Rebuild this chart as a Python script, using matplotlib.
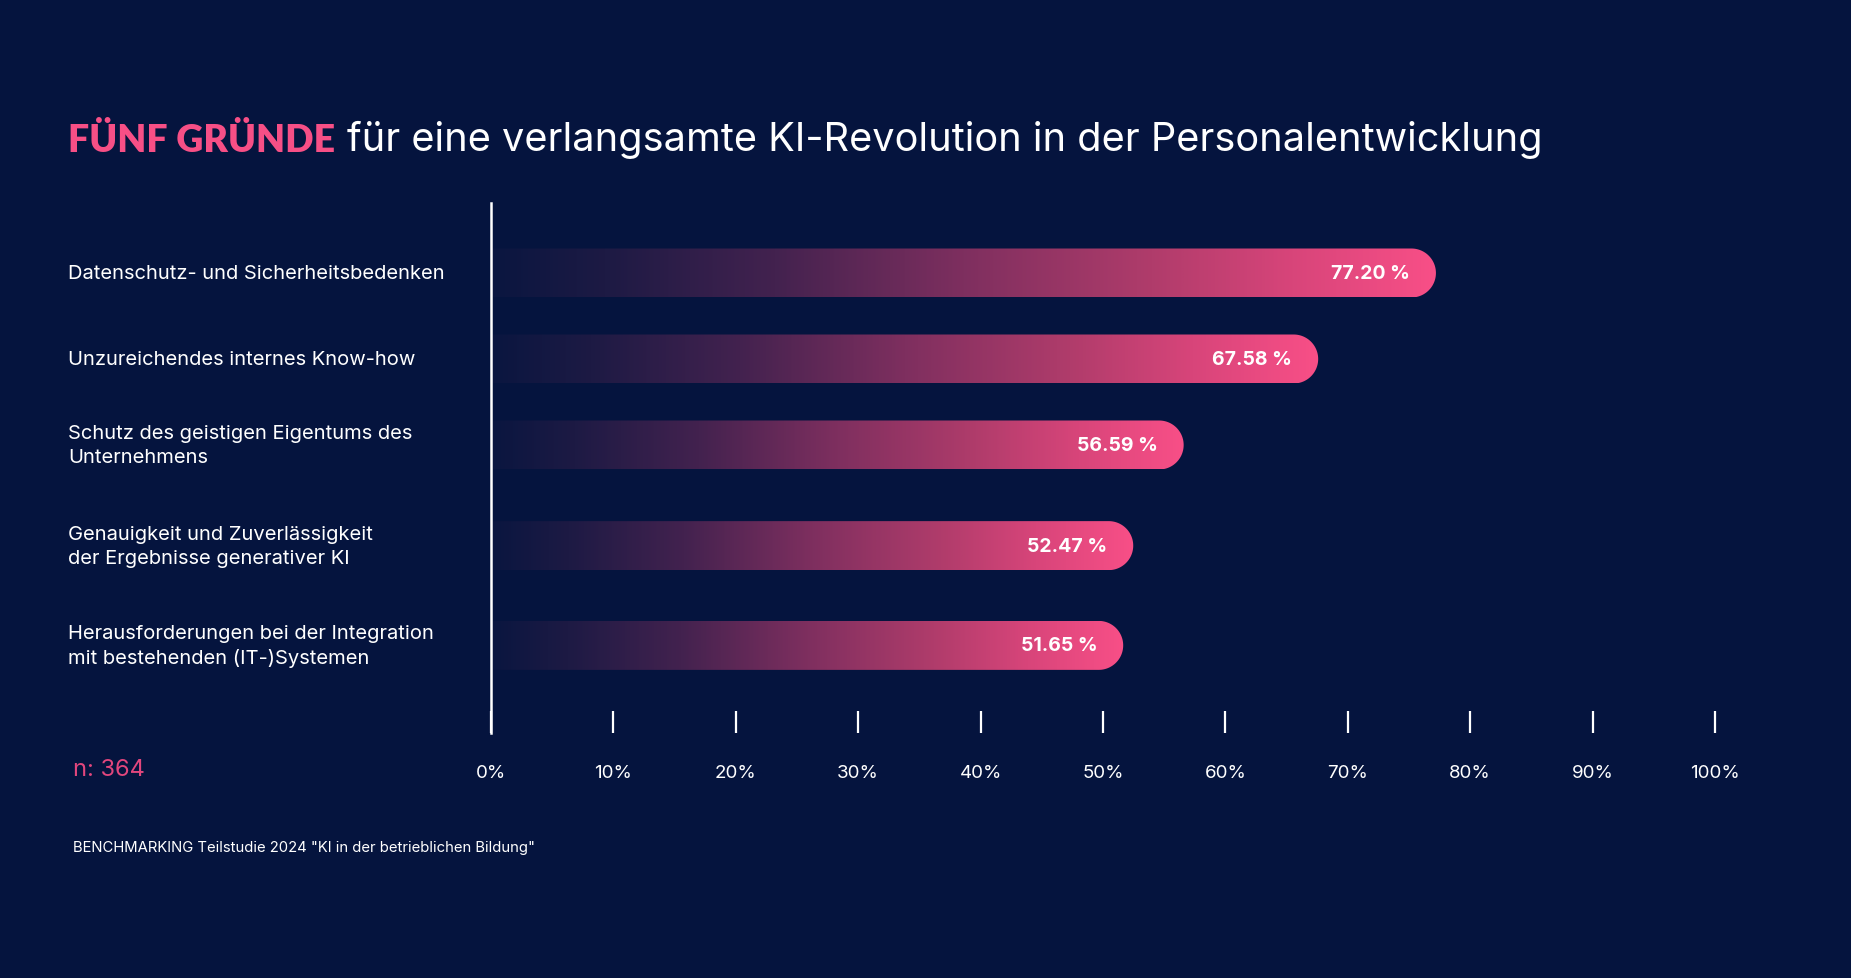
import numpy as np
import matplotlib
matplotlib.use("Agg")
import matplotlib.pyplot as plt
from matplotlib.colors import LinearSegmentedColormap
from matplotlib.path import Path
from matplotlib.patches import PathPatch
from matplotlib.transforms import blended_transform_factory

# ---------------- data ----------------
categories = [
    "Datenschutz- und Sicherheitsbedenken",
    "Unzureichendes internes Know-how",
    "Schutz des geistigen Eigentums des\nUnternehmens",
    "Genauigkeit und Zuverlässigkeit\nder Ergebnisse generativer KI",
    "Herausforderungen bei der Integration\nmit bestehenden (IT-)Systemen",
]
values = [77.20, 67.58, 56.59, 52.47, 51.65]
value_labels = ["77.20 %", "67.58 %", "56.59 %", "52.47 %", "51.65 %"]
tick_values = [0, 10, 20, 30, 40, 50, 60, 70, 80, 90, 100]
tick_labels = ["0%", "10%", "20%", "30%", "40%", "50%", "60%", "70%", "80%", "90%", "100%"]
title_highlight = "FÜNF GRÜNDE"
title_rest = "für eine verlangsamte KI-Revolution in der Personalentwicklung"
sample_note = "n: 364"
source_note = 'BENCHMARKING Teilstudie 2024 "KI in der betrieblichen Bildung"'

# ---------------- layout / style ----------------
BG = "#05143e"
PINK = "#f74f86"
W, H, DPI = 1851, 979, 100
row_pos = [0, 1, 2, 3.17, 4.33]     # vertical slots (two-line labels get more room)
bar_h_px = 49

fig = plt.figure(figsize=(W / DPI, H / DPI), dpi=DPI, facecolor=BG)
ax_left, ax_right = 491, 1715
ax_top, ax_bot = 204, 734
ax = fig.add_axes([ax_left / W, 1 - ax_bot / H, (ax_right - ax_left) / W, (ax_bot - ax_top) / H])
ax.set_facecolor(BG)
ax.patch.set_alpha(0)

row_px = 86.0
ylim_top = -(274 - ax_top) / row_px
ylim_bot = (ax_bot - 274) / row_px
ax.set_xlim(0, 100)
ax.set_ylim(ylim_bot, ylim_top)

cmap = LinearSegmentedColormap.from_list(
    "bar",
    [(0.0, "#0a1640"), (0.12, "#1d1a44"), (0.3, "#43224f"), (0.5, "#7e2f5f"),
     (0.7, "#b03c6b"), (0.85, "#d8457a"), (1.0, "#f84f87")])

# pixel scale of data units
p0 = ax.transData.transform((0, 0))
p1 = ax.transData.transform((1, 1))
px_x = abs(p1[0] - p0[0])
px_y = abs(p1[1] - p0[1])
bh = bar_h_px / px_y
rx = (bar_h_px / 2) / px_x
ry = bh / 2

grad = np.linspace(0, 1, 512).reshape(1, -1)
for y, v in zip(row_pos, values):
    cx = v - rx
    th = np.linspace(-np.pi / 2, np.pi / 2, 60)
    arc = np.column_stack([cx + rx * np.cos(th), y + ry * np.sin(th)])
    verts = np.vstack([[0, y - ry], arc, [0, y + ry], [0, y - ry]])
    codes = [Path.MOVETO] + [Path.LINETO] * (len(verts) - 2) + [Path.CLOSEPOLY]
    patch = PathPatch(Path(verts, codes), facecolor="none", edgecolor="none", transform=ax.transData)
    ax.add_patch(patch)
    im = ax.imshow(grad, extent=[0, v, y + ry, y - ry], aspect="auto", cmap=cmap,
                   interpolation="bilinear", zorder=2)
    im.set_clip_path(patch)

for y, v, lab in zip(row_pos, values, value_labels):
    ax.annotate(lab, xy=(v, y), xytext=(-26, 0), textcoords="offset pixels",
                ha="right", va="center", color="white", fontsize=14,
                fontweight="bold", family="Inter", zorder=5)

ax.set_xlim(0, 100)
ax.set_ylim(ylim_bot, ylim_top)

# axis styling
for s in ["top", "right", "bottom"]:
    ax.spines[s].set_visible(False)
ax.spines["left"].set_color("white")
ax.spines["left"].set_linewidth(1.8)
ax.spines["left"].set_zorder(6)
ax.set_yticks([])
ax.set_xticks(tick_values)
ax.set_xticklabels(tick_labels, family="Inter", fontsize=13.5, color="white")
ax.tick_params(axis="x", direction="in", length=15.5, width=1.6, color="white", pad=22.5)

# category labels
tr = blended_transform_factory(fig.transFigure, ax.transData)
for y, c in zip(row_pos, categories):
    ax.text(68 / W, y, c, transform=tr, ha="left", va="center", color="white",
            fontsize=14.5, family="Inter", linespacing=1.42)

# title
t1 = fig.text(68 / W, 1 - 140 / H, title_highlight, color=PINK, fontsize=27,
              fontweight="heavy", family="Lato", va="center", ha="left")
fig.canvas.draw()
ext = t1.get_window_extent()
fig.text((ext.x1 + 12) / W, 1 - 140 / H, title_rest, color="white", fontsize=28.6,
         family="Inter", va="center", ha="left")

fig.text(73 / W, 1 - 770 / H, sample_note, color="#e2467d", fontsize=17,
         family="Inter", va="center", ha="left")
fig.text(73 / W, 1 - 848 / H, source_note, color="white", fontsize=10.7,
         family="Inter", va="center", ha="left")

fig.savefig("out.png", dpi=DPI, facecolor=BG)
